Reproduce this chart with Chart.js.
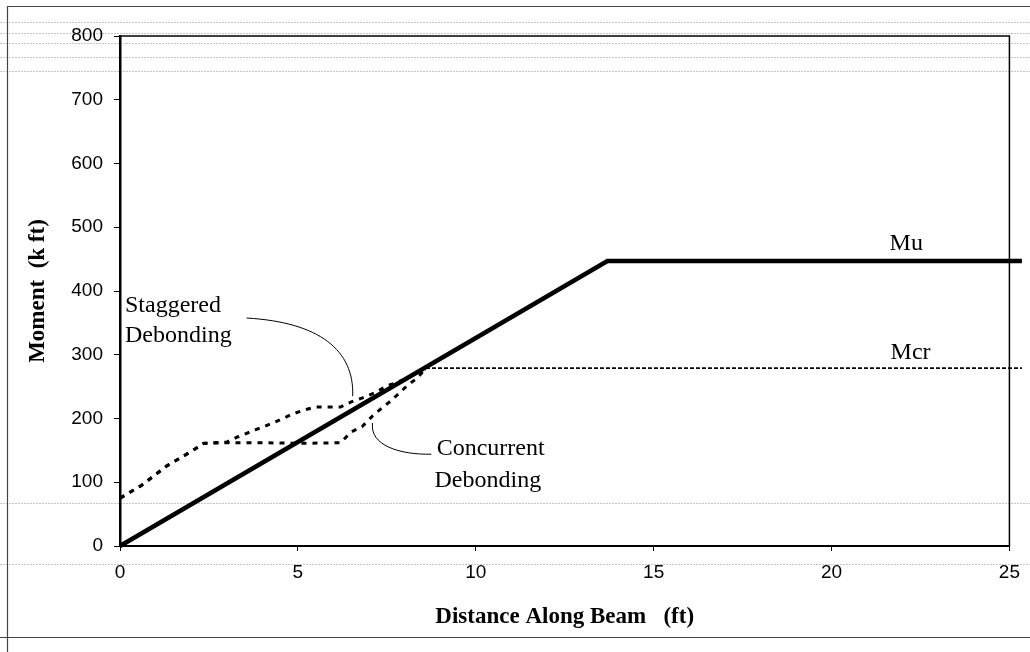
<!DOCTYPE html>
<html>
<head>
<meta charset="utf-8">
<script src="https://cdn.jsdelivr.net/npm/chart.js@4/dist/chart.umd.min.js"></script>
<style>
  html, body { margin: 0; padding: 0; background: #fff; }
  #wrap { width: 1030px; height: 652px; position: relative; }
</style>
</head>
<body>
<div id="wrap"><canvas id="c" width="1030" height="652"></canvas></div>
<script>
// ---- data (ft, k-ft) ----
const muX = [0, 13.7, 25.35];
const muY = [0, 447, 447];
const mcrX = [8.6, 25.35];
const mcrY = [279, 279];
const staggeredX = [0, 0.6, 1.3, 2.05, 2.35, 3.0, 3.3, 3.8, 4.3, 4.85, 5.15, 5.5, 6.2, 6.5, 6.8, 7.15, 7.5, 7.8, 8.1, 8.55];
const staggeredY = [75, 95, 125, 150, 161, 163, 171, 182, 193, 207, 213, 218, 218, 226, 232, 240, 251, 257, 264, 279];
const concurrentX = [0, 0.6, 1.3, 2.05, 2.35, 3.0, 4.0, 5.0, 6.2, 6.5, 6.8, 7.1, 7.35, 7.6, 7.85, 8.1, 8.35, 8.6];
const concurrentY = [75, 95, 125, 150, 161, 162, 162, 161, 162, 179, 187, 204, 216, 227, 240, 253, 263, 279];
const xTicks = [0, 5, 10, 15, 20, 25];
const yTicks = [0, 100, 200, 300, 400, 500, 600, 700, 800];
const xTitle = 'Distance Along Beam   (ft)';
const yTitle = 'Moment  (k ft)';
// annotation texts (position in data units)
const labels = [
  { text: 'Staggered', x: 0.14, y: 367 },
  { text: 'Debonding', x: 0.14, y: 320 },
  { text: 'Concurrent', x: 8.9, y: 143 },
  { text: 'Debonding', x: 8.84, y: 92.5 },
  { text: 'Mu', x: 21.63, y: 464 },
  { text: 'Mcr', x: 21.66, y: 293 }
];
const leaders = [
  [[3.56, 357.6], [5.61, 351], [6.59, 307], [6.54, 235]],
  [[7.10, 193], [7.01, 158], [7.86, 143], [8.75, 144]]
];

const pts = (xs, ys) => xs.map((x, i) => ({ x, y: ys[i] }));

const decor = {
  id: 'decor',
  beforeDraw(chart) {
    const ctx = chart.ctx;
    ctx.save();
    ctx.fillStyle = '#fff';
    ctx.fillRect(0, 0, chart.width, chart.height);
    // faint scan lines
    ctx.strokeStyle = 'rgba(150,150,150,0.55)';
    ctx.lineWidth = 1;
    ctx.setLineDash([2, 1]);
    [22.5, 33.5, 43.5, 57.5, 71.5].forEach(y => {
      ctx.beginPath(); ctx.moveTo(0, y); ctx.lineTo(1030, y); ctx.stroke();
    });
    [503.5, 564.5].forEach(y => {
      ctx.beginPath(); ctx.moveTo(0, y); ctx.lineTo(1030, y); ctx.stroke();
    });
    ctx.setLineDash([]);
    // outer frame
    ctx.strokeStyle = '#444';
    ctx.lineWidth = 1.2;
    ctx.beginPath();
    ctx.moveTo(1030, 6.5); ctx.lineTo(7.5, 6.5); ctx.lineTo(7.5, 652);
    ctx.moveTo(0, 637.5); ctx.lineTo(1030, 637.5);
    ctx.stroke();
    ctx.restore();
  },
  afterDatasetsDraw(chart) {
    const ctx = chart.ctx;
    const xs = chart.scales.x, ys = chart.scales.y;
    const a = chart.chartArea;
    ctx.save();
    // top & right plot border
    ctx.strokeStyle = '#000';
    ctx.lineWidth = 1.5;
    ctx.beginPath();
    ctx.moveTo(a.left, a.top); ctx.lineTo(a.right, a.top); ctx.lineTo(a.right, a.bottom);
    ctx.stroke();
    // leader curves
    ctx.lineWidth = 1;
    leaders.forEach(l => {
      const p = l.map(q => [xs.getPixelForValue(q[0]), ys.getPixelForValue(q[1])]);
      ctx.beginPath();
      ctx.moveTo(p[0][0], p[0][1]);
      ctx.bezierCurveTo(p[1][0], p[1][1], p[2][0], p[2][1], p[3][0], p[3][1]);
      ctx.stroke();
    });
    // labels
    ctx.fillStyle = '#000';
    ctx.font = '24px "Liberation Serif", "Times New Roman", serif';
    ctx.textAlign = 'left';
    ctx.textBaseline = 'alphabetic';
    labels.forEach(t => {
      ctx.fillText(t.text, xs.getPixelForValue(t.x), ys.getPixelForValue(t.y));
    });
    ctx.restore();
  }
};

new Chart(document.getElementById('c'), {
  type: 'line',
  data: {
    datasets: [
      { label: 'Mcr', data: pts(mcrX, mcrY), borderColor: '#000', borderWidth: 1.6, borderDash: [4, 2], pointRadius: 0, order: 3 },
      { label: 'Staggered', data: pts(staggeredX, staggeredY), borderColor: '#000', borderWidth: 3, borderDash: [5, 6], pointRadius: 0, order: 2 },
      { label: 'Concurrent', data: pts(concurrentX, concurrentY), borderColor: '#000', borderWidth: 3, borderDash: [5, 6], pointRadius: 0, order: 2 },
      { label: 'Mu', data: pts(muX, muY), borderColor: '#000', borderWidth: 4.5, pointRadius: 0, order: 1 }
    ]
  },
  options: {
    responsive: false,
    animation: false,
    clip: false,
    parsing: true,
    layout: { padding: { left: 0, top: 36, right: 19, bottom: 0 } },
    plugins: { legend: { display: false }, tooltip: { enabled: false } },
    elements: { line: { tension: 0, borderCapStyle: 'butt' } },
    scales: {
      x: {
        type: 'linear', min: 0, max: 25,
        afterFit: s => { s.height = 106; },
        afterBuildTicks: s => { s.ticks = xTicks.map(v => ({ value: v })); },
        grid: { drawOnChartArea: false, drawTicks: true, tickLength: 5, color: '#000', lineWidth: 1 },
        border: { display: true, color: '#000', width: 2 },
        ticks: { color: '#000', padding: 10, maxRotation: 0, font: { family: '"Liberation Sans", Arial, sans-serif', size: 19 } },
        title: { display: true, text: xTitle, color: '#000', padding: { top: 0, bottom: 21 }, font: { family: '"Liberation Serif", "Times New Roman", serif', size: 23, weight: 'bold' } }
      },
      y: {
        type: 'linear', min: 0, max: 800,
        afterFit: s => { s.width = 120; },
        afterBuildTicks: s => { s.ticks = yTicks.map(v => ({ value: v })); },
        grid: { drawOnChartArea: false, drawTicks: true, tickLength: 6, color: '#000', lineWidth: 1 },
        border: { display: true, color: '#000', width: 2.5 },
        ticks: { color: '#000', padding: 11, font: { family: '"Liberation Sans", Arial, sans-serif', size: 19 } },
        title: { display: true, text: yTitle, color: '#000', padding: { top: 24, bottom: 0 }, font: { family: '"Liberation Serif", "Times New Roman", serif', size: 23, weight: 'bold' } }
      }
    }
  },
  plugins: [decor]
});
</script>
</body>
</html>
